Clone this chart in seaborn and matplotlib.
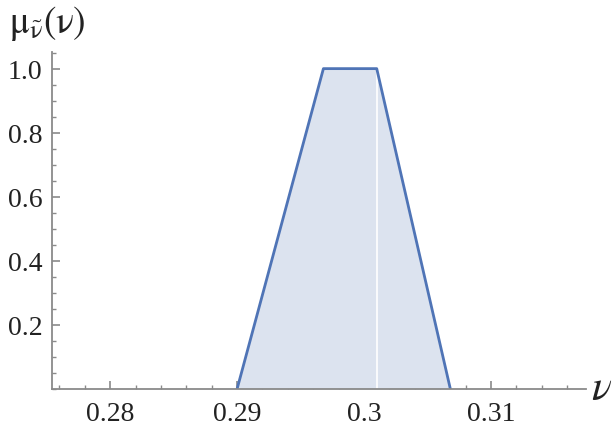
import matplotlib
matplotlib.use("Agg")
import matplotlib.pyplot as plt
import seaborn as sns
import pandas as pd
from matplotlib.ticker import MultipleLocator

# trapezoidal membership function
v_points = [0.2900, 0.2968, 0.3010, 0.3068]
mu_points = [0.0, 1.0, 1.0, 0.0]

x_ticks = [0.28, 0.29, 0.30, 0.31]
x_tick_labels = ["0.28", "0.29", "0.3", "0.31"]
y_ticks = [0.2, 0.4, 0.6, 0.8, 1.0]
y_tick_labels = ["0.2", "0.4", "0.6", "0.8", "1.0"]

df = pd.DataFrame({"v": v_points, "mu": mu_points})

sns.set_style("white")
plt.rcParams["font.family"] = "serif"
plt.rcParams["font.serif"] = ["Liberation Serif", "DejaVu Serif"]
plt.rcParams["mathtext.fontset"] = "stix"

axis_col = "#8a8a8a"
line_col = "#4f74b6"
fill_col = "#dce3ef"

fig = plt.figure(figsize=(6.14, 4.27), dpi=100)
ax = fig.add_axes([0.0847, 0.0867, 0.87, 0.79])

ax.fill_between(df["v"], df["mu"], color=fill_col, lw=0)
# seam in the filled region
ax.plot([v_points[2], v_points[2]], [0, 1], color="white", lw=1.2)
sns.lineplot(data=df, x="v", y="mu", ax=ax, color=line_col, lw=2.0, sort=False)

ax.set_xlim(0.27542, 0.3175)
ax.set_ylim(0, 1.053)

for s in ["top", "right"]:
    ax.spines[s].set_visible(False)
for s in ["left", "bottom"]:
    ax.spines[s].set_color(axis_col)
    ax.spines[s].set_linewidth(1.3)

ax.set_xticks(x_ticks)
ax.set_xticklabels(x_tick_labels, fontfamily="Liberation Serif")
ax.set_yticks(y_ticks)
ax.set_yticklabels(y_tick_labels, fontfamily="Liberation Serif")
ax.xaxis.set_minor_locator(MultipleLocator(0.002))
ax.yaxis.set_minor_locator(MultipleLocator(0.05))
ax.tick_params(which="major", direction="in", length=6, width=1.2, color=axis_col,
               labelsize=20, labelcolor="#222222")
ax.tick_params(which="minor", direction="in", length=3, width=1.0, color=axis_col)
ax.tick_params(axis="x", which="both", top=False, bottom=True, pad=9)
ax.tick_params(axis="y", which="both", left=True, right=False, pad=7)

ax.set_xlabel("")
ax.set_ylabel("")

fig.text(0.015, 0.99, r"$\mathrm{\mu}_{\tilde{\mathrm{\nu}}}(\mathrm{\nu})$",
         fontsize=27, color="#222222", va="top", ha="left")
fig.text(0.962, 0.088, r"$\nu$", fontsize=30, color="#222222", va="center", ha="left")

fig.savefig("out.png", dpi=100)
